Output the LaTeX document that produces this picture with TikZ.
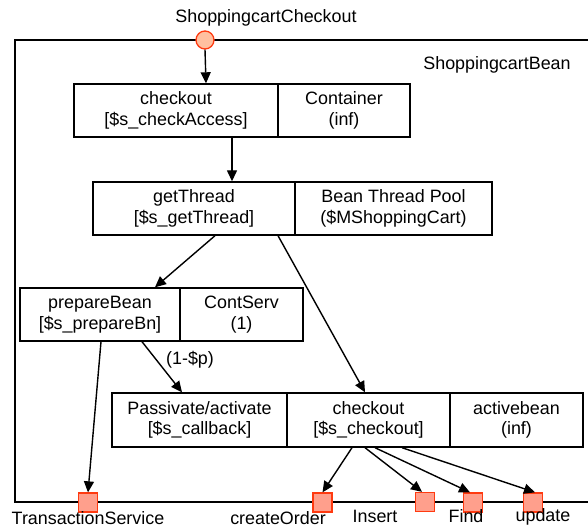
\documentclass[tikz,border=0pt]{standalone}
\usepackage{fontspec}
\setmainfont{Liberation Sans}
\usetikzlibrary{arrows.meta}
\definecolor{portline}{HTML}{FF3A10}
\definecolor{circfill}{HTML}{FFC0A0}
\definecolor{sqfill}{HTML}{FF9F8C}
\tikzset{
  txt/.style={font=\fontsize{17.9}{20.5}\selectfont, inner sep=0pt},
  cell/.style={txt, draw, line width=1.4pt, align=center, minimum height=53pt},
  arr/.style={line width=1.4pt, -{Triangle[length=11pt,width=10pt]}},
  inport/.style={circle, draw=portline, fill=circfill, line width=1.3pt, minimum size=18pt, inner sep=0pt},
  outport/.style={rectangle, draw=portline, fill=sqfill, line width=1.3pt, minimum size=19pt, inner sep=0pt},
}
\begin{document}
\begin{tikzpicture}[x=1pt, y=-1pt]
  \useasboundingbox (0,0) rectangle (588,529);
  \clip (0,0) rectangle (588,529);
  % component frame (open to the right)
  \draw[line width=1.4pt] (600,40) -- (15,40) -- (15,502) -- (600,502);
  \node[txt, anchor=base] (beanlbl) at (497,70) {ShoppingcartBean};

  % provided interface
  \node[inport] (port) at (205,40) {};
  \node[txt, anchor=base] (portlbl) at (266,23) {ShoppingcartCheckout};

  % tasks with their hosting resources
  \node[cell, minimum width=204pt] (c1a) at (176,110.5) {checkout\\{[}\$s\_checkAccess{]}};
  \node[cell, minimum width=132pt] (c1b) at (344,110.5) {Container\\(inf)};

  \node[cell, minimum width=202pt] (c2a) at (194,208.5) {getThread\\{[}\$s\_getThread{]}};
  \node[cell, minimum width=197pt] (c2b) at (393.5,208.5) {Bean Thread Pool\\(\$MShoppingCart)};

  \node[cell, minimum width=160pt] (c3a) at (100,314.5) {prepareBean\\{[}\$s\_prepareBn{]}};
  \node[cell, minimum width=123pt] (c3b) at (241.5,314.5) {ContServ\\(1)};

  \node[cell, minimum width=175pt, minimum height=54pt] (c4a) at (199.5,420) {Passivate/activate\\{[}\$s\_callback{]}};
  \node[cell, minimum width=163pt, minimum height=54pt] (c4b) at (368.5,420) {checkout\\{[}\$s\_checkout{]}};
  \node[cell, minimum width=133pt, minimum height=54pt] (c4c) at (516.5,420) {activebean\\(inf)};

  % required interfaces
  \node[outport] (ts)   at (88,502.5)    {};
  \node[outport] (co)   at (322.5,502.5) {};
  \node[outport] (ins)  at (425,502)     {};
  \node[outport] (find) at (473,502.5)   {};
  \node[outport] (upd)  at (533,502.5)   {};
  \node[txt, anchor=base] (tslbl)   at (88,524.8)  {TransactionService};
  \node[txt, anchor=base] (colbl)   at (278,524.8) {createOrder};
  \node[txt, anchor=base] (inslbl)  at (375,522) {Insert};
  \node[txt, anchor=base] (findlbl) at (466,522) {Find};
  \node[txt, anchor=base] (updlbl)  at (543,521.5) {update};

  % calls
  \draw[arr] (port.south) -- ([xshift=1pt]port.south |- c1a.north);
  \draw[arr] ([xshift=56pt]c1a.south) -- ([xshift=56pt]c1a.south |- c2a.north);
  \draw[arr] ([xshift=21pt]c2a.south) -- ([xshift=55pt]c3a.north);
  \draw[arr] ([xshift=84pt]c2a.south) -- ([xshift=-3.5pt]c4b.north);
  \draw[arr] ([xshift=1pt]c3a.south) -- (ts.north);
  \draw[arr] ([xshift=42pt]c3a.south) -- ([xshift=-17.5pt]c4a.north);
  \node[txt, anchor=base] (plbl) at (190,364) {(1-\$p)};
  \draw[arr] ([xshift=-16.5pt]c4b.south) -- (co.north);
  \draw[arr] ([xshift=-3.5pt]c4b.south) -- ([xshift=-3pt]ins.north);
  \draw[arr] ([xshift=6.5pt]c4b.south) -- ([xshift=-3pt]find.north);
  \draw[arr] ([xshift=33.5pt]c4b.south) -- ([xshift=2pt]upd.north);
\end{tikzpicture}
\end{document}
